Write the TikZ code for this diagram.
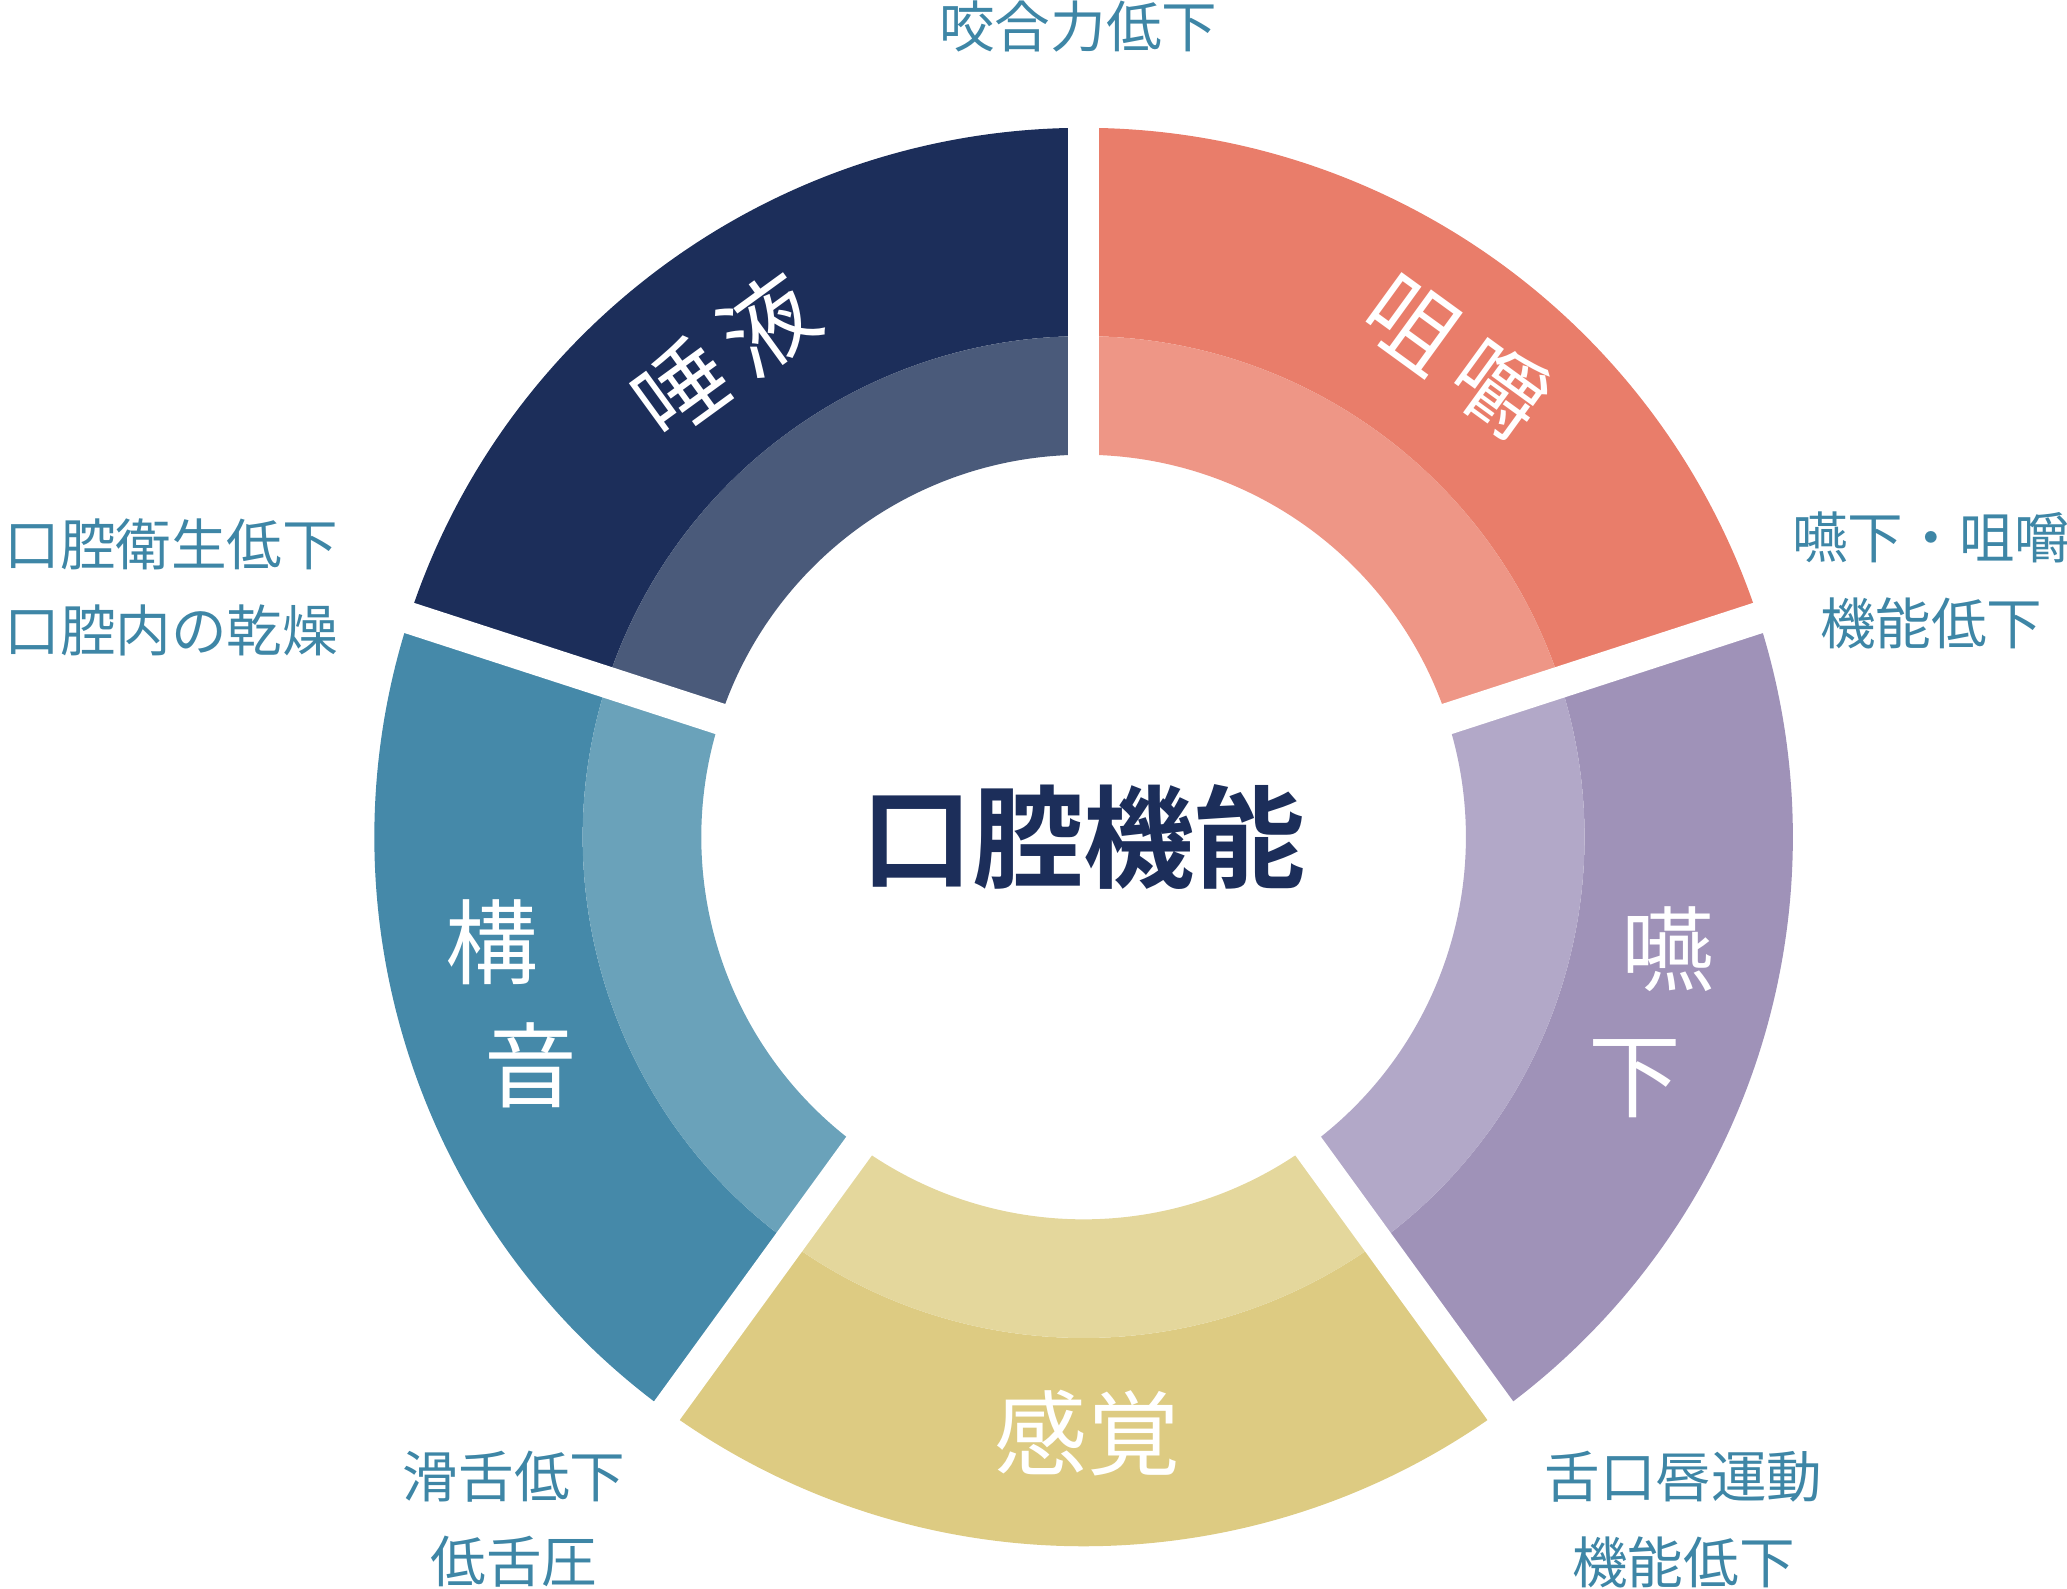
\documentclass[tikz,border=0pt]{standalone}
\usepackage{fontspec}
\newfontfamily\jp{Noto Sans CJK JP}
\newfontfamily\jpb{Noto Sans CJK JP Bold}
\definecolor{navyO}{HTML}{1C2E5A}\definecolor{navyI}{HTML}{4A5A7A}
\definecolor{salmO}{HTML}{E97D6A}\definecolor{salmI}{HTML}{EE9686}
\definecolor{tealO}{HTML}{4589A9}\definecolor{tealI}{HTML}{6AA2BA}
\definecolor{yelO}{HTML}{DDCB82}\definecolor{yelI}{HTML}{E4D79C}
\definecolor{purO}{HTML}{9F92B8}\definecolor{purI}{HTML}{B2A8C8}
\definecolor{labblue}{HTML}{3E86A6}
\tikzset{
  seglabel/.style={text=white,font=\jp\fontsize{20}{20}\selectfont,inner sep=0pt},
  outlabel/.style={text=labblue,font=\jp\fontsize{12}{12}\selectfont},
}
\begin{document}
\begin{tikzpicture}
\useasboundingbox (0,0) rectangle (15.68,12.05);
\begin{scope}[shift={(8.22,5.70)}]
\foreach \a/\co/\ci in {18/salmO/salmI,90/navyO/navyI,162/tealO/tealI,234/yelO/yelI,306/purO/purI}{
  \fill[\co] (\a:5.38) arc[start angle=\a,end angle=\a+72,radius=5.38]
    -- (\a+72:3.80) arc[start angle=\a+72,end angle=\a,radius=3.80] -- cycle;
  \fill[\ci] (\a:3.80) arc[start angle=\a,end angle=\a+72,radius=3.80]
    -- (\a+72:2.90) arc[start angle=\a+72,end angle=\a,radius=2.90] -- cycle;
}
% gaps between segments
\foreach \a in {18,90,162,234,306}
  \draw[white,line width=0.24cm] (0,0) -- (\a:5.6);
\node[text=navyO,font=\jpb\fontsize{24}{24}\selectfont] (center) at (0,0) {口腔機能};
\end{scope}
\node[seglabel,rotate=36] (daeki) at (5.50,9.35) {唾\,液};
\node[seglabel,rotate=-36] (soshaku) at (11.05,9.35) {咀\,嚼};
\node[seglabel] (kou) at (3.73,4.90) {構};
\node[seglabel] (on) at (4.03,3.97) {音};
\node[seglabel] (en) at (12.65,4.85) {嚥};
\node[seglabel] (ka) at (12.40,3.87) {下};
\node[seglabel] (kankaku) at (8.25,1.18) {感覚};
\node[outlabel] (koogou) at (8.18,11.85) {咬合力低下};
\node[outlabel] (eisei) at (1.30,7.92) {口腔衛生低下};
\node[outlabel] (kansou) at (1.30,7.27) {口腔内の乾燥};
\node[outlabel] (enge) at (14.65,7.97) {嚥下・咀嚼};
\node[outlabel] (kinou1) at (14.65,7.32) {機能低下};
\node[outlabel] (zekkou) at (12.77,0.85) {舌口唇運動};
\node[outlabel] (kinou2) at (12.77,0.20) {機能低下};
\node[outlabel] (katsu) at (3.90,0.85) {滑舌低下};
\node[outlabel] (teizetsu) at (3.90,0.20) {低舌圧};
\end{tikzpicture}
\end{document}
